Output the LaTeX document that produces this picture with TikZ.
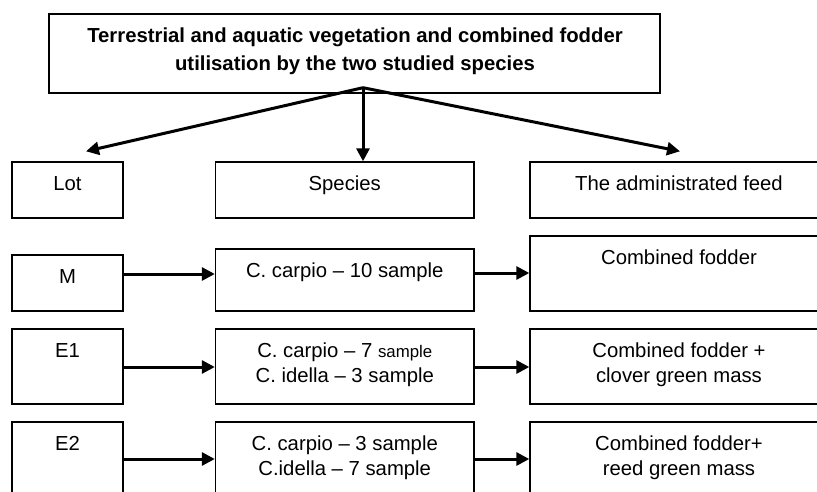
\documentclass[tikz,border=0pt]{standalone}
\usepackage{fontspec}
\setmainfont{Liberation Sans}
\usetikzlibrary{arrows.meta}
\begin{document}
\begin{tikzpicture}[x=1pt,y=-1pt,
  boxnode/.style={draw=black, line width=1.4pt, rectangle, inner sep=0pt},
  txt/.style={font=\fontsize{20.3}{25.3}\selectfont, align=center, inner sep=0pt, anchor=base},
  btxt/.style={font=\fontsize{20.3}{28}\selectfont\bfseries, align=center, inner sep=0pt, anchor=base},
  arr/.style={line width=3pt, -{Triangle[length=13pt,width=13pt]}}]
\useasboundingbox (0,0) rectangle (817,491);
\clip (0,0) rectangle (817,491);
\newcommand{\smallsample}{{\fontsize{16.8}{20}\selectfont sample}}
% top box
\node[boxnode, minimum width=611pt, minimum height=79pt] (top) at (354.5,53.5) {};
\node[btxt] (toptxt) at (355,70.3) {Terrestrial and aquatic vegetation and combined fodder\\utilisation by the two studied species};
% header row
\node[boxnode, minimum width=111pt, minimum height=56pt] (lotH) at (67.5,190) {};
\node[boxnode, minimum width=258.5pt, minimum height=56pt] (spH) at (344.75,190) {};
\node[boxnode, minimum width=298pt, minimum height=56pt] (feedH) at (679,190) {};
\node[txt] (lotHt) at (67.5,190.7) {Lot};
\node[txt] (spHt) at (344.75,190.7) {Species};
\node[txt] (feedHt) at (679,190.7) {The administrated feed};
% row M
\node[boxnode, minimum width=111pt, minimum height=56pt] (lotM) at (67.5,283) {};
\node[boxnode, minimum width=258.5pt, minimum height=62pt] (spM) at (344.75,280) {};
\node[boxnode, minimum width=298pt, minimum height=75pt] (feedM) at (679,273.5) {};
\node[txt] (lotMt) at (67.5,283) {M};
\node[txt] (spMt) at (344.75,277) {C. carpio – 10 sample};
\node[txt] (feedMt) at (679,264) {Combined fodder};
% row E1
\node[boxnode, minimum width=111pt, minimum height=75pt] (lotA) at (67.5,366.5) {};
\node[boxnode, minimum width=258.5pt, minimum height=75pt] (spA) at (344.75,366.5) {};
\node[boxnode, minimum width=298pt, minimum height=75pt] (feedA) at (679,366.5) {};
\node[txt] (lotAt) at (67.5,357) {E1};
\node[txt] (spAt) at (344.75,382.3) {C. carpio – 7 \smallsample\\C. idella – 3 sample};
\node[txt] (feedAt) at (679,382.3) {Combined fodder +\\clover green mass};
% row E2
\node[boxnode, minimum width=111pt, minimum height=75pt] (lotB) at (67.5,459.5) {};
\node[boxnode, minimum width=258.5pt, minimum height=75pt] (spB) at (344.75,459.5) {};
\node[boxnode, minimum width=298pt, minimum height=75pt] (feedB) at (679,459.5) {};
\node[txt] (lotBt) at (67.5,450) {E2};
\node[txt] (spBt) at (344.75,475.3) {C. carpio – 3 sample\\C.idella – 7 sample};
\node[txt] (feedBt) at (679,475.3) {Combined fodder+\\reed green mass};
% top arrows
\coordinate (src) at ([xshift=8.5pt,yshift=6pt]top.south);
\draw[arr] (src) -- ([xshift=18.5pt,yshift=10pt]lotH.north);
\draw[arr] (src) -- ([xshift=18.25pt]spH.north);
\draw[arr] (src) -- ([xshift=1pt,yshift=10pt]feedH.north);
% row arrows
\draw[arr] (lotM.east |- 0,274) -- (spM.west |- 0,274);
\draw[arr] (spM.east |- 0,273) -- (feedM.west |- 0,273);
\draw[arr] (lotA.east |- 0,367) -- (spA.west |- 0,367);
\draw[arr] (spA.east |- 0,367) -- (feedA.west |- 0,367);
\draw[arr] (lotB.east |- 0,459) -- (spB.west |- 0,459);
\draw[arr] (spB.east |- 0,459) -- (feedB.west |- 0,459);
\end{tikzpicture}
\end{document}
